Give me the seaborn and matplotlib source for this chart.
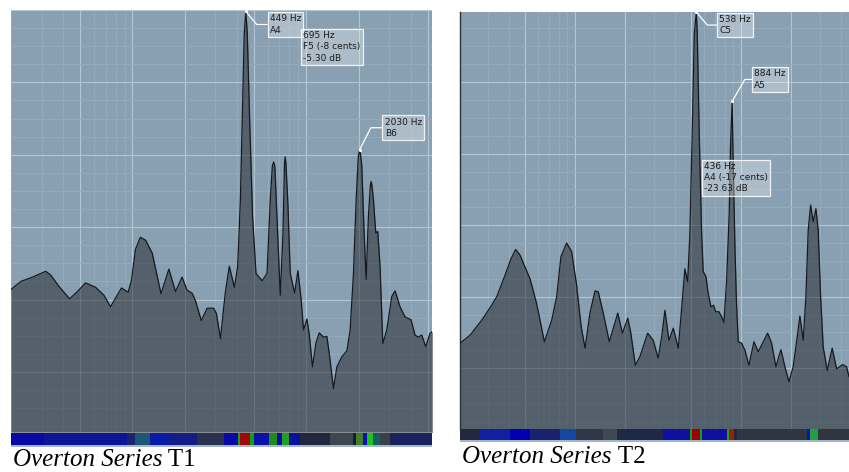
import numpy as np
import matplotlib
matplotlib.use("Agg")
import matplotlib.pyplot as plt
import seaborn as sns
from matplotlib.colors import ListedColormap
from matplotlib.ticker import FixedLocator

# ---- spectrum T1: frequency (Hz) and level (dB) ----
t1_hz = [20, 22.8, 26.6, 31.7, 33.8, 37.8, 43.5, 48.2, 53.7, 61.3, 68.5, 74.8, 81.7, 86.5,
         94.5, 98.8, 104, 111, 119, 130, 146, 162, 177, 193, 206, 220, 230, 249, 269, 293,
         304, 321, 342, 361, 386, 403, 418, 431, 440, 449, 458, 472, 491, 514, 557, 595,
         621, 638, 649, 660, 672, 709, 735, 750, 757, 764, 785, 809, 857, 896, 936, 965,
         1009, 1040, 1087, 1137, 1188, 1257, 1315, 1356, 1435, 1501, 1604, 1713, 1790,
         1870, 1938, 1995, 2030, 2060, 2089, 2154, 2212, 2280, 2340, 2362, 2390, 2436,
         2514, 2581, 2661, 2759, 2908, 3107, 3245, 3467, 3705, 4011, 4228, 4417, 4621,
         4871, 5156, 5330]
t1_db = [-38.6, -37.5, -36.9, -36.1, -36.6, -38.2, -39.9, -38.9, -37.7, -38.3, -39.4, -41.0,
         -39.4, -38.4, -39.0, -37.3, -33.1, -31.4, -31.8, -33.6, -39.2, -35.8, -38.9, -36.9,
         -38.7, -39.1, -40.1, -42.9, -41.2, -41.2, -41.9, -45.4, -39.1, -35.4, -38.3, -35.5,
         -26.2, -12.4, -3.2, -0.2, -3.2, -14.7, -28.5, -36.4, -37.4, -36.4, -26.2, -21.6,
         -21.0, -21.6, -26.2, -39.4, -30.8, -21.2, -20.3, -21.2, -26.9, -36.4, -39.1, -36.0,
         -40.1, -44.2, -42.7, -44.7, -49.3, -46.0, -44.6, -45.2, -45.1, -47.4, -52.3, -49.3,
         -47.9, -47.1, -44.2, -36.4, -26.2, -20.2, -19.3, -20.2, -21.6, -30.8, -37.2, -28.5,
         -24.2, -23.7, -24.2, -26.2, -30.8, -30.6, -35.5, -46.1, -44.2, -39.6, -38.8, -41.0,
         -42.4, -42.8, -44.9, -45.2, -44.9, -46.5, -44.7, -44.4]

# ---- spectrum T2 ----
t2_hz = [20.3, 23.3, 27.4, 31.5, 33.8, 37.9, 41.2, 43.9, 46.7, 53.6, 58.8, 65.4, 72.4, 77.6,
         82.3, 89.1, 95.5, 102, 109, 115, 123, 132, 138, 148, 161, 181, 193, 208, 217, 231,
         246, 274, 296, 317, 333, 348, 368, 391, 419, 443, 459, 477, 492, 508, 523, 538, 545,
         560, 579, 592, 615, 635, 659, 684, 703, 736, 764, 789, 819, 849, 863, 884, 894, 919,
         938, 962, 1008, 1056, 1116, 1196, 1269, 1349, 1446, 1528, 1622, 1739, 1838, 1943,
         2062, 2180, 2263, 2369, 2459, 2539, 2625, 2721, 2825, 2916, 3015, 3125, 3304, 3541,
         3763, 4090, 4323, 4470]
t2_db = [-46.5, -45.4, -43.3, -41.2, -40.0, -37.0, -34.7, -33.4, -34.2, -37.5, -41.0, -46.3,
         -43.3, -40.0, -34.4, -32.5, -33.7, -38.2, -44.2, -47.2, -42.3, -39.2, -39.3, -42.3,
         -46.3, -42.3, -45.1, -43.0, -45.1, -49.6, -48.4, -45.1, -46.1, -48.6, -45.6, -41.9,
         -46.1, -44.4, -47.2, -40.5, -36.1, -37.9, -31.2, -17.2, -3.2, -0.2, -3.1, -17.1,
         -31.2, -36.5, -37.2, -39.6, -41.4, -41.2, -42.1, -42.1, -42.8, -43.6, -37.7, -28.4,
         -19.5, -12.7, -19.5, -33.0, -40.5, -46.3, -46.5, -47.5, -49.6, -46.3, -47.7, -46.5,
         -45.1, -46.5, -49.8, -47.4, -49.8, -51.9, -49.8, -45.6, -42.7, -46.1, -40.0, -30.7,
         -27.2, -29.5, -27.7, -30.7, -40.0, -47.0, -50.3, -47.2, -50.1, -49.5, -49.8, -51.2]

# ---- labelled peaks ----
t1_peak_hz = [449, 2030]
t1_peak_db = [-0.2, -19.3]
t1_peak_note = ["A4", "B6"]
t2_peak_hz = [538, 884]
t2_peak_db = [-0.2, -12.7]
t2_peak_note = ["C5", "A5"]

# ---- cursor read-outs ----
t1_cursor = "695 Hz\nF5 (-8 cents)\n-5.30 dB"
t2_cursor = "436 Hz\nA4 (-17 cents)\n-23.63 dB"

# ---- pitch-colour strip (band edges in Hz, one colour per band) ----
t1_strip_edges = [20, 31, 93, 104, 127, 165, 236, 335, 403, 418, 477, 500, 607, 679, 725,
                  791, 924, 1374, 1870, 1938, 2134, 2232, 2436, 2661, 3038, 5330]
t1_strip_colors = ["#0808a4", "#0c1498", "#1a2470", "#1b5878", "#0a1aa8", "#141c88",
                   "#2a3050", "#0808a8", "#18a018", "#a00808", "#10a010", "#0a10a8",
                   "#208a20", "#0a10a0", "#20a020", "#0a10a0", "#222640", "#3e4650",
                   "#1a1a30", "#40802a", "#1010b0", "#20c020", "#106060", "#384048",
                   "#1a2060"]
t2_strip_edges = [20.3, 26.8, 40.6, 53.6, 81.2, 102, 148, 178, 340, 492, 504, 566, 579,
                  819, 845, 906, 941, 2483, 2599, 2916, 4470]
t2_strip_colors = ["#222840", "#1020a0", "#0000b0", "#1a2270", "#1448a0", "#303848",
                   "#404850", "#202848", "#1010a0", "#10a010", "#a00000", "#10a010",
                   "#1010a0", "#20a020", "#a02000", "#202848", "#303540", "#1010b0",
                   "#20a040", "#303540"]

captions = ["T1", "T2"]

# ---- grid frequencies / levels ----
major_hz = [50, 100, 200, 500, 1000, 2000, 5000]
minor_hz = [20, 30, 40, 60, 70, 80, 90, 300, 400, 600, 700, 800, 900, 3000, 4000]
major_db = [0, -10, -20, -30, -40, -50]
minor_db = [-2.5 * k for k in range(1, 24) if k % 4]

BG = "#89a0b2"
FILL = "#2a2e33"
FILL_ALPHA = 0.55
LINE = "#15191d"
GRID_MAJOR = "#b4c6d4"
GRID_MINOR = "#95aabb"
TXT = "#1c1c1c"

sns.set_style("white")
plt.rcParams["font.family"] = ["DejaVu Sans"]

W, H = 849, 472
fig = plt.figure(figsize=(W / 100, H / 100), dpi=100)


def px_axes(left, top, right, bottom):
    return fig.add_axes([left / W, 1 - bottom / H, (right - left) / W, (bottom - top) / H])


def spectrum(ax, hz, db, xlim, ylim):
    ax.set_facecolor(BG)
    ax.set_xscale("log")
    ax.set_xlim(xlim)
    ax.set_ylim(ylim)
    ax.xaxis.set_major_locator(FixedLocator(major_hz))
    ax.xaxis.set_minor_locator(FixedLocator(minor_hz))
    ax.yaxis.set_major_locator(FixedLocator(major_db))
    ax.yaxis.set_minor_locator(FixedLocator(minor_db))
    ax.grid(which="major", color=GRID_MAJOR, lw=0.8)
    ax.grid(which="minor", color=GRID_MINOR, lw=0.7)
    ax.set_axisbelow(True)
    ax.tick_params(which="both", length=0, labelbottom=False, labelleft=False)
    ax.fill_between(hz, db, ylim[0] - 5, color=FILL, alpha=FILL_ALPHA, lw=0, zorder=2)
    sns.lineplot(x=hz, y=db, ax=ax, color=LINE, linewidth=0.9, sort=False,
                 estimator=None, zorder=3)
    ax.set_xlabel("")
    ax.set_ylabel("")
    for s in ax.spines.values():
        s.set_visible(False)


def strip(ax, edges, colors, xlim):
    ax.set_xscale("log")
    ax.set_xlim(xlim)
    ax.set_ylim(0, 1)
    ax.set_facecolor("#a3b6c5")
    vals = np.arange(len(colors))[None, :]
    ax.pcolormesh(edges, [0.16, 1.0], vals, cmap=ListedColormap(colors),
                  vmin=-0.5, vmax=len(colors) - 0.5, shading="flat")
    ax.set_xticks([])
    ax.set_yticks([])
    ax.minorticks_off()
    for s in ax.spines.values():
        s.set_visible(False)


box = dict(boxstyle="square,pad=0.25", fc=(1, 1, 1, 0.3), ec=(1, 1, 1, 0.85), lw=0.9)


def peak_labels(ax, hz, db, notes, offsets, angles):
    for f, d, n, off, ang in zip(hz, db, notes, offsets, angles):
        ax.annotate(f"{f} Hz\n{n}", xy=(f, d), xytext=off, textcoords="offset pixels",
                    ha="left", va="top", fontsize=6.5, color=TXT, linespacing=1.3,
                    bbox=box, zorder=5,
                    arrowprops=dict(arrowstyle="-", color="white", lw=0.9,
                                    connectionstyle=f"angle,angleA=0,angleB={ang},rad=0",
                                    shrinkA=0, shrinkB=0, relpos=(0, 0.5)))
        ax.scatter([f], [d], s=5, color="white", zorder=6, linewidths=0)


# panel T1
ax1 = px_axes(11, 10, 432.5, 432)
spectrum(ax1, t1_hz, t1_db, (20, 5330), (-58.3, 0))
peak_labels(ax1, t1_peak_hz, t1_peak_db, t1_peak_note, [(24, -3), (25, 32)], [-50, 63])
ax1.text(0.6935, 0.9495, t1_cursor, transform=ax1.transAxes, ha="left", va="top",
         fontsize=6.5, color=TXT, linespacing=1.3, bbox=box, zorder=5)
s1 = px_axes(11, 433, 432.5, 447)
strip(s1, t1_strip_edges, t1_strip_colors, (20, 5330))

# panel T2
ax2 = px_axes(460, 12, 849, 429)
spectrum(ax2, t2_hz, t2_db, (20.3, 4470), (-58.5, -0.2))
ax2.spines["left"].set_visible(True)
ax2.spines["left"].set_color("#2b3138")
ax2.spines["left"].set_linewidth(1.0)
peak_labels(ax2, t2_peak_hz, t2_peak_db, t2_peak_note, [(23, -3), (22, 32)], [-50, 60])
ax2.text(0.628, 0.6396, t2_cursor, transform=ax2.transAxes, ha="left", va="top",
         fontsize=6.5, color=TXT, linespacing=1.3, bbox=box, zorder=5)
s2 = px_axes(460, 429, 849, 442)
strip(s2, t2_strip_edges, t2_strip_colors, (20.3, 4470))

# captions: italic series name followed by the upright take label
fig.canvas.draw()
renderer = fig.canvas.get_renderer()
for (x0, base), label in zip([(13, 466), (462, 463)], captions):
    t = fig.text(x0 / W, 1 - base / H, "Overton Series", fontsize=18,
                 family="Liberation Serif", style="italic", va="baseline", color="black")
    bb = t.get_window_extent(renderer)
    fig.text(bb.x1 / W, 1 - base / H, " " + label, fontsize=18,
             family="Liberation Serif", va="baseline", color="black")

fig.savefig("out.png", dpi=100)
